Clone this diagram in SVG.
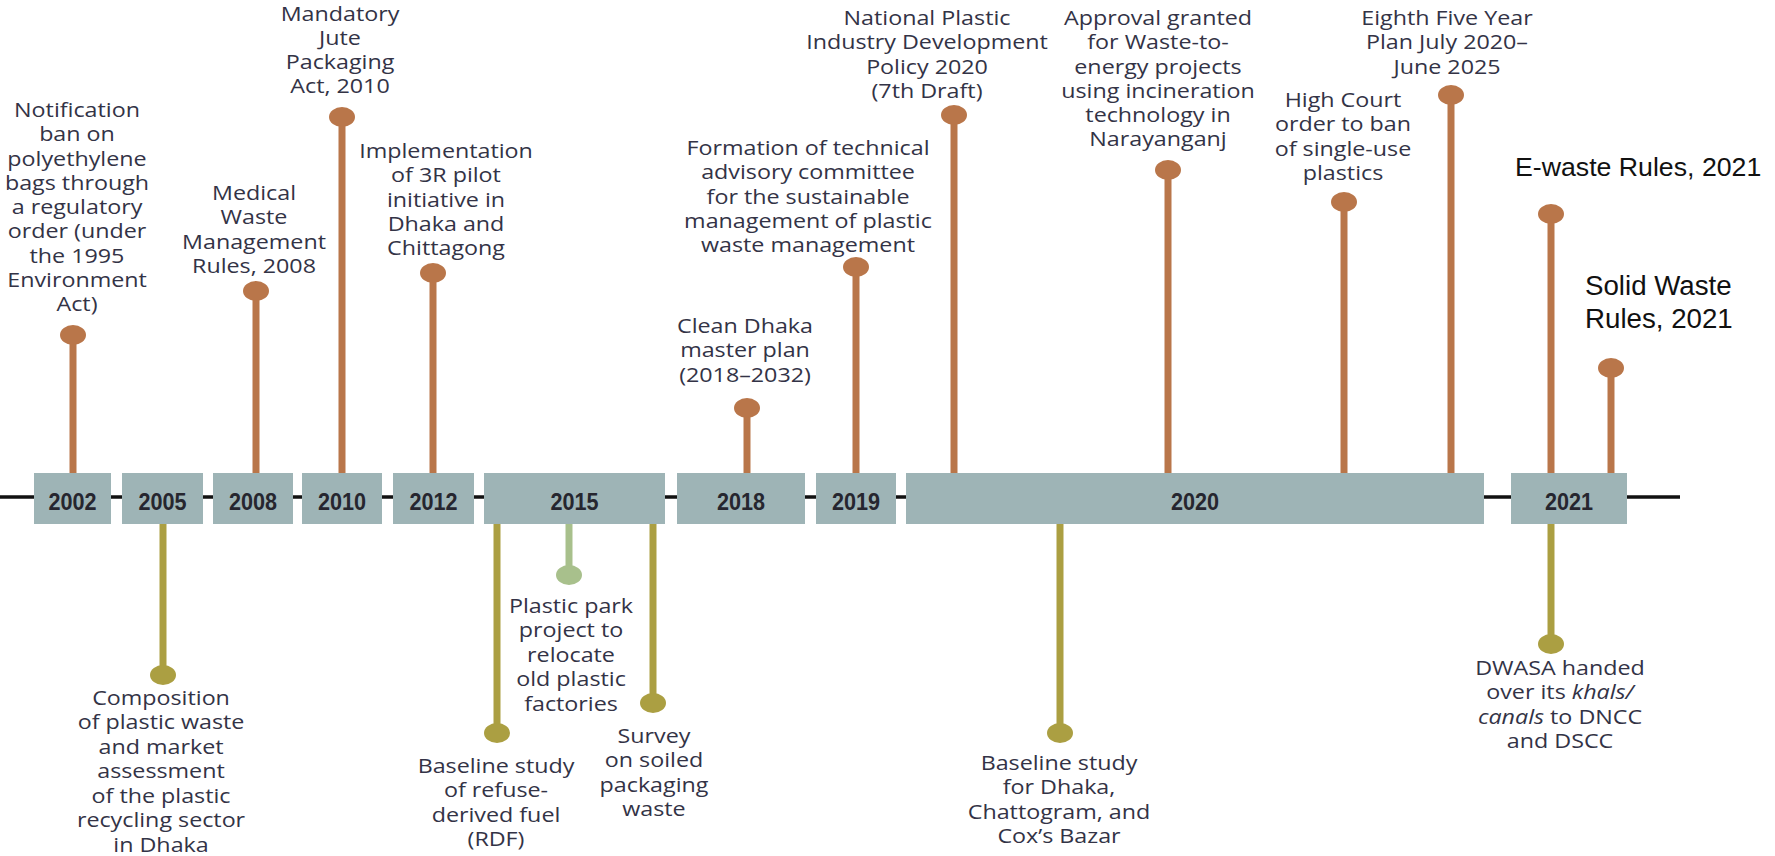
<svg xmlns="http://www.w3.org/2000/svg" width="1775" height="856" viewBox="0 0 1775 856">
<style>
.lbl{font-family:"Open Sans","Noto Sans",sans-serif;font-size:19.4px;font-weight:500;fill:#333346;text-anchor:middle}
.yr{font-family:"Liberation Sans",Arial,sans-serif;font-weight:bold;font-size:24px;fill:#26262f;text-anchor:middle}
.ar{font-family:"Liberation Sans",Arial,sans-serif;fill:#111}
.box{fill:#9eb4b6}
.so{stroke:#b9764a;stroke-width:7}
.sy{stroke:#ab9f42;stroke-width:7}
.sg{stroke:#a8c08c;stroke-width:7}
.co{fill:#b9764a}
.cy{fill:#ab9f42}
.cg{fill:#a8c08c}
</style>
<rect width="1775" height="856" fill="#fff"/>
<line id="axis" x1="0" y1="497" x2="1680" y2="497" stroke="#111" stroke-width="3.5"/>
<g id="connectors">
<line class="so" x1="73" y1="335" x2="73" y2="474"/>
<line class="so" x1="256" y1="291" x2="256" y2="474"/>
<line class="so" x1="342" y1="117" x2="342" y2="474"/>
<line class="so" x1="433" y1="273" x2="433" y2="474"/>
<line class="so" x1="747" y1="408" x2="747" y2="474"/>
<line class="so" x1="856" y1="267" x2="856" y2="474"/>
<line class="so" x1="954" y1="115" x2="954" y2="474"/>
<line class="so" x1="1168" y1="170" x2="1168" y2="474"/>
<line class="so" x1="1344" y1="202" x2="1344" y2="474"/>
<line class="so" x1="1451" y1="95" x2="1451" y2="474"/>
<line class="so" x1="1551" y1="214" x2="1551" y2="474"/>
<line class="so" x1="1611" y1="368" x2="1611" y2="474"/>
<line class="sy" x1="163" y1="523" x2="163" y2="675"/>
<line class="sy" x1="497" y1="523" x2="497" y2="733"/>
<line class="sg" x1="569" y1="523" x2="569" y2="575"/>
<line class="sy" x1="653" y1="523" x2="653" y2="703"/>
<line class="sy" x1="1060" y1="523" x2="1060" y2="733"/>
<line class="sy" x1="1551" y1="523" x2="1551" y2="644"/>
</g>
<g id="y2002"><rect class="box" x="34" y="473" width="77" height="51"/><text class="yr" transform="translate(72.5 0) scale(0.9 1)" x="0" y="510">2002</text></g>
<g id="y2005"><rect class="box" x="122" y="473" width="81" height="51"/><text class="yr" transform="translate(162.5 0) scale(0.9 1)" x="0" y="510">2005</text></g>
<g id="y2008"><rect class="box" x="213" y="473" width="80" height="51"/><text class="yr" transform="translate(253 0) scale(0.9 1)" x="0" y="510">2008</text></g>
<g id="y2010"><rect class="box" x="302" y="473" width="80" height="51"/><text class="yr" transform="translate(342 0) scale(0.9 1)" x="0" y="510">2010</text></g>
<g id="y2012"><rect class="box" x="393" y="473" width="81" height="51"/><text class="yr" transform="translate(433.5 0) scale(0.9 1)" x="0" y="510">2012</text></g>
<g id="y2015"><rect class="box" x="484" y="473" width="181" height="51"/><text class="yr" transform="translate(574.5 0) scale(0.9 1)" x="0" y="510">2015</text></g>
<g id="y2018"><rect class="box" x="677" y="473" width="128" height="51"/><text class="yr" transform="translate(741 0) scale(0.9 1)" x="0" y="510">2018</text></g>
<g id="y2019"><rect class="box" x="816" y="473" width="80" height="51"/><text class="yr" transform="translate(856 0) scale(0.9 1)" x="0" y="510">2019</text></g>
<g id="y2020"><rect class="box" x="906" y="473" width="578" height="51"/><text class="yr" transform="translate(1195 0) scale(0.9 1)" x="0" y="510">2020</text></g>
<g id="y2021"><rect class="box" x="1511" y="473" width="116" height="51"/><text class="yr" transform="translate(1569 0) scale(0.9 1)" x="0" y="510">2021</text></g>

<g id="e-notification"><ellipse class="co" cx="73" cy="335" rx="13" ry="10"/>
<text class="lbl" transform="translate(77 0) scale(1.2 1)"><tspan x="0" y="117">Notification</tspan><tspan x="0" y="141.3">ban on</tspan><tspan x="0" y="165.6">polyethylene</tspan><tspan x="0" y="190">bags through</tspan><tspan x="0" y="214.2">a regulatory</tspan><tspan x="0" y="238.5">order (under</tspan><tspan x="0" y="262.8">the 1995</tspan><tspan x="0" y="287">Environment</tspan><tspan x="0" y="311.4">Act)</tspan></text></g>
<g id="e-medical"><ellipse class="co" cx="256" cy="291" rx="13" ry="10"/>
<text class="lbl" transform="translate(254 0) scale(1.2 1)"><tspan x="0" y="200">Medical</tspan><tspan x="0" y="224.3">Waste</tspan><tspan x="0" y="248.6">Management</tspan><tspan x="0" y="273">Rules, 2008</tspan></text></g>
<g id="e-jute"><ellipse class="co" cx="342" cy="117" rx="13" ry="10"/>
<text class="lbl" transform="translate(340 0) scale(1.2 1)"><tspan x="0" y="21">Mandatory</tspan><tspan x="0" y="45">Jute</tspan><tspan x="0" y="69">Packaging</tspan><tspan x="0" y="93">Act, 2010</tspan></text></g>
<g id="e-3r"><ellipse class="co" cx="433" cy="273" rx="13" ry="10"/>
<text class="lbl" transform="translate(446 0) scale(1.2 1)"><tspan x="0" y="158">Implementation</tspan><tspan x="0" y="182.3">of 3R pilot</tspan><tspan x="0" y="206.6">initiative in</tspan><tspan x="0" y="231">Dhaka and</tspan><tspan x="0" y="255.2">Chittagong</tspan></text></g>
<g id="e-cleandhaka"><ellipse class="co" cx="747" cy="408" rx="13" ry="10"/>
<text class="lbl" transform="translate(745 0) scale(1.2 1)"><tspan x="0" y="333">Clean Dhaka</tspan><tspan x="0" y="357.3">master plan</tspan><tspan x="0" y="381.6">(2018–2032)</tspan></text></g>
<g id="e-committee"><ellipse class="co" cx="856" cy="267" rx="13" ry="10"/>
<text class="lbl" transform="translate(808 0) scale(1.2 1)"><tspan x="0" y="155">Formation of technical</tspan><tspan x="0" y="179.3">advisory committee</tspan><tspan x="0" y="203.6">for the sustainable</tspan><tspan x="0" y="228">management of plastic</tspan><tspan x="0" y="252.2">waste management</tspan></text></g>
<g id="e-policy"><ellipse class="co" cx="954" cy="115" rx="13" ry="10"/>
<text class="lbl" transform="translate(927 0) scale(1.2 1)"><tspan x="0" y="25">National Plastic</tspan><tspan x="0" y="49.3">Industry Development</tspan><tspan x="0" y="73.6">Policy 2020</tspan><tspan x="0" y="98">(7th Draft)</tspan></text></g>
<g id="e-wte"><ellipse class="co" cx="1168" cy="170" rx="13" ry="10"/>
<text class="lbl" transform="translate(1158 0) scale(1.2 1)"><tspan x="0" y="25">Approval granted</tspan><tspan x="0" y="49.3">for Waste-to-</tspan><tspan x="0" y="73.6">energy projects</tspan><tspan x="0" y="98">using incineration</tspan><tspan x="0" y="122.2">technology in</tspan><tspan x="0" y="146.5">Narayanganj</tspan></text></g>
<g id="e-highcourt"><ellipse class="co" cx="1344" cy="202" rx="13" ry="10"/>
<text class="lbl" transform="translate(1343 0) scale(1.2 1)"><tspan x="0" y="107">High Court</tspan><tspan x="0" y="131.3">order to ban</tspan><tspan x="0" y="155.6">of single-use</tspan><tspan x="0" y="180">plastics</tspan></text></g>
<g id="e-eighth"><ellipse class="co" cx="1451" cy="95" rx="13" ry="10"/>
<text class="lbl" transform="translate(1447 0) scale(1.2 1)"><tspan x="0" y="25">Eighth Five Year</tspan><tspan x="0" y="49.3">Plan July 2020–</tspan><tspan x="0" y="73.6">June 2025</tspan></text></g>
<g id="e-ewaste"><ellipse class="co" cx="1551" cy="214" rx="13" ry="10"/>
<text class="ar" x="1515" y="176" font-size="26.7">E-waste Rules, 2021</text></g>
<g id="e-solid"><ellipse class="co" cx="1611" cy="368" rx="13" ry="10"/>
<text class="ar" font-size="27.7"><tspan x="1585" y="295">Solid Waste</tspan><tspan x="1585" y="328">Rules, 2021</tspan></text></g>

<g id="e-composition"><ellipse class="cy" cx="163" cy="675" rx="13" ry="10"/>
<text class="lbl" transform="translate(161 0) scale(1.2 1)"><tspan x="0" y="705">Composition</tspan><tspan x="0" y="729.5">of plastic waste</tspan><tspan x="0" y="754">and market</tspan><tspan x="0" y="778.5">assessment</tspan><tspan x="0" y="803">of the plastic</tspan><tspan x="0" y="827.5">recycling sector</tspan><tspan x="0" y="852">in Dhaka</tspan></text></g>
<g id="e-rdf"><ellipse class="cy" cx="497" cy="733" rx="13" ry="10"/>
<text class="lbl" transform="translate(496 0) scale(1.2 1)"><tspan x="0" y="773">Baseline study</tspan><tspan x="0" y="797.5">of refuse-</tspan><tspan x="0" y="822">derived fuel</tspan><tspan x="0" y="846.5">(RDF)</tspan></text></g>
<g id="e-park"><ellipse class="cg" cx="569" cy="575" rx="13" ry="10"/>
<text class="lbl" transform="translate(571 0) scale(1.2 1)"><tspan x="0" y="613">Plastic park</tspan><tspan x="0" y="637.5">project to</tspan><tspan x="0" y="662">relocate</tspan><tspan x="0" y="686.5">old plastic</tspan><tspan x="0" y="711">factories</tspan></text></g>
<g id="e-survey"><ellipse class="cy" cx="653" cy="703" rx="13" ry="10"/>
<text class="lbl" transform="translate(654 0) scale(1.2 1)"><tspan x="0" y="743">Survey</tspan><tspan x="0" y="767.5">on soiled</tspan><tspan x="0" y="792">packaging</tspan><tspan x="0" y="816.5">waste</tspan></text></g>
<g id="e-baseline"><ellipse class="cy" cx="1060" cy="733" rx="13" ry="10"/>
<text class="lbl" transform="translate(1059 0) scale(1.2 1)"><tspan x="0" y="770">Baseline study</tspan><tspan x="0" y="794.5">for Dhaka,</tspan><tspan x="0" y="819">Chattogram, and</tspan><tspan x="0" y="843.5">Cox’s Bazar</tspan></text></g>
<g id="e-dwasa"><ellipse class="cy" cx="1551" cy="644" rx="13" ry="10"/>
<text class="lbl" transform="translate(1560 0) scale(1.2 1)"><tspan x="0" y="675">DWASA handed</tspan><tspan x="0" y="699.5">over its <tspan font-style="italic">khals/</tspan></tspan><tspan x="0" y="724"><tspan font-style="italic">canals</tspan> to DNCC</tspan><tspan x="0" y="748.5">and DSCC</tspan></text></g>
</svg>
